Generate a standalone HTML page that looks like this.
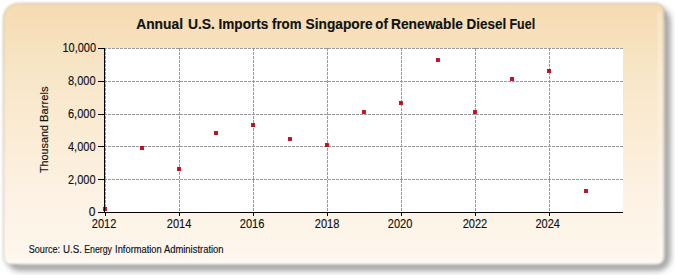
<!DOCTYPE html>
<html><head><meta charset="utf-8">
<style>
html,body{margin:0;padding:0;background:#fff;width:675px;height:275px;overflow:hidden;position:relative;}

svg{position:absolute;left:0;top:0;}
text{font-family:"Liberation Sans",sans-serif;fill:#111;stroke:#111;stroke-width:0.15px;}
</style></head><body>

<svg width="675" height="275" viewBox="0 0 675 275">
<defs>
<linearGradient id="bg" gradientUnits="userSpaceOnUse" x1="0" y1="3" x2="0" y2="263">
<stop offset="0" stop-color="#f5dbb0"/>
<stop offset="0.277" stop-color="#f8e6c9"/>
<stop offset="0.488" stop-color="#faebd3"/>
<stop offset="0.738" stop-color="#fdf2e4"/>
<stop offset="0.912" stop-color="#fef5ea"/>
<stop offset="1" stop-color="#fef8f0"/>
</linearGradient>
<filter id="sh" x="-10%" y="-10%" width="120%" height="120%"><feGaussianBlur stdDeviation="3.5"/></filter>
<filter id="pb" x="-10%" y="-10%" width="120%" height="120%"><feGaussianBlur stdDeviation="1.0"/></filter>
</defs>
<path d="M22.5 10.8 H656.5 A10 10 0 0 1 666.5 20.8 V257.8 A9 9 0 0 1 657.5 266.8 H19.5 A9 9 0 0 1 10.5 257.8 V22.8 A12 12 0 0 1 22.5 10.8 Z" fill="none" stroke="#000" stroke-opacity="0.6" stroke-width="5" filter="url(#sh)"/>
<g filter="url(#pb)">
<path d="M17.5 3.5 H656 A8 8 0 0 1 664 11.5 V257.3 A7 7 0 0 1 657 264.3 H10.5 A7 7 0 0 1 3.5 257.3 V17.5 A14 14 0 0 1 17.5 3.5 Z" fill="url(#bg)" stroke="#707060" stroke-opacity="0.3" stroke-width="1"/>
<rect x="8" y="260.8" width="650" height="2" fill="#fff" fill-opacity="0.7"/>
<rect x="658" y="12" width="3.5" height="246" fill="#fff" fill-opacity="0.3"/>
</g>
<rect x="105" y="48" width="518" height="164" fill="#fff"/>
<g stroke="#9a9a9a" stroke-width="1" stroke-dasharray="3 1" fill="none" shape-rendering="crispEdges">
<line x1="105.5" y1="48" x2="105.5" y2="212"/>
<line x1="104" y1="48.5" x2="623" y2="48.5"/>
<line x1="104" y1="81.5" x2="623" y2="81.5"/>
<line x1="104" y1="114.5" x2="623" y2="114.5"/>
<line x1="104" y1="146.5" x2="623" y2="146.5"/>
<line x1="104" y1="179.5" x2="623" y2="179.5"/>
<line x1="179.5" y1="48" x2="179.5" y2="212"/>
<line x1="253.5" y1="48" x2="253.5" y2="212"/>
<line x1="327.5" y1="48" x2="327.5" y2="212"/>
<line x1="401.5" y1="48" x2="401.5" y2="212"/>
<line x1="475.5" y1="48" x2="475.5" y2="212"/>
<line x1="549.5" y1="48" x2="549.5" y2="212"/>
</g>

<g fill="#da0018" stroke="#a80012" stroke-width="0.6" shape-rendering="geometricPrecision">
<rect x="103.3" y="207.3" width="3.4" height="3.4"/>
<rect x="140.3" y="146.3" width="3.4" height="3.4"/>
<rect x="177.3" y="167.3" width="3.4" height="3.4"/>
<rect x="214.3" y="131.3" width="3.4" height="3.4"/>
<rect x="251.3" y="123.3" width="3.4" height="3.4"/>
<rect x="288.3" y="137.3" width="3.4" height="3.4"/>
<rect x="325.3" y="143.3" width="3.4" height="3.4"/>
<rect x="362.3" y="110.3" width="3.4" height="3.4"/>
<rect x="399.3" y="101.3" width="3.4" height="3.4"/>
<rect x="436.3" y="58.3" width="3.4" height="3.4"/>
<rect x="473.3" y="110.3" width="3.4" height="3.4"/>
<rect x="510.3" y="77.3" width="3.4" height="3.4"/>
<rect x="547.3" y="69.3" width="3.4" height="3.4"/>
<rect x="584.3" y="189.3" width="3.4" height="3.4"/>
</g>
<g stroke="#000" stroke-width="1" fill="none" shape-rendering="crispEdges">
<line x1="104.5" y1="48" x2="104.5" y2="213"/>
<line x1="104" y1="212.5" x2="623" y2="212.5"/>
<line x1="98" y1="48.5" x2="104" y2="48.5"/>
<line x1="98" y1="81.5" x2="104" y2="81.5"/>
<line x1="98" y1="114.5" x2="104" y2="114.5"/>
<line x1="98" y1="146.5" x2="104" y2="146.5"/>
<line x1="98" y1="179.5" x2="104" y2="179.5"/>
<line x1="98" y1="212.5" x2="104" y2="212.5"/>
<line x1="105.5" y1="213" x2="105.5" y2="216"/>
<line x1="179.5" y1="213" x2="179.5" y2="216"/>
<line x1="253.5" y1="213" x2="253.5" y2="216"/>
<line x1="327.5" y1="213" x2="327.5" y2="216"/>
<line x1="401.5" y1="213" x2="401.5" y2="216"/>
<line x1="475.5" y1="213" x2="475.5" y2="216"/>
<line x1="549.5" y1="213" x2="549.5" y2="216"/>
</g>
<text y="28.7" font-size="14" font-weight="bold" lengthAdjust="spacingAndGlyphs"><tspan x="136.2" textLength="46.8" lengthAdjust="spacingAndGlyphs">Annual</tspan><tspan x="187.9" textLength="27.1" lengthAdjust="spacingAndGlyphs">U.S.</tspan><tspan x="218.5" textLength="49.8" lengthAdjust="spacingAndGlyphs">Imports</tspan><tspan x="272.0" textLength="29.5" lengthAdjust="spacingAndGlyphs">from</tspan><tspan x="305.5" textLength="67.2" lengthAdjust="spacingAndGlyphs">Singapore</tspan><tspan x="375.3" textLength="12.5" lengthAdjust="spacingAndGlyphs">of</tspan><tspan x="391.0" textLength="71.9" lengthAdjust="spacingAndGlyphs">Renewable</tspan><tspan x="466.6" textLength="39.6" lengthAdjust="spacingAndGlyphs">Diesel</tspan><tspan x="509.5" textLength="25.6" lengthAdjust="spacingAndGlyphs">Fuel</tspan></text>
<g font-size="12" text-anchor="end">
<text x="96" y="52" textLength="33.5" lengthAdjust="spacingAndGlyphs">10,000</text>
<text x="95.5" y="85" textLength="27.5" lengthAdjust="spacingAndGlyphs">8,000</text>
<text x="95.5" y="118" textLength="27.5" lengthAdjust="spacingAndGlyphs">6,000</text>
<text x="95.5" y="150.5" textLength="27.5" lengthAdjust="spacingAndGlyphs">4,000</text>
<text x="95.5" y="183.5" textLength="27.5" lengthAdjust="spacingAndGlyphs">2,000</text>
<text x="95.5" y="216">0</text>
</g>
<g font-size="12" text-anchor="middle">
<text x="104.1" y="227.8" textLength="24.6" lengthAdjust="spacingAndGlyphs">2012</text>
<text x="179.05" y="227.8" textLength="24.6" lengthAdjust="spacingAndGlyphs">2014</text>
<text x="252.1" y="227.8" textLength="24.6" lengthAdjust="spacingAndGlyphs">2016</text>
<text x="327.1" y="227.8" textLength="24.6" lengthAdjust="spacingAndGlyphs">2018</text>
<text x="400.1" y="227.8" textLength="24.6" lengthAdjust="spacingAndGlyphs">2020</text>
<text x="474.95" y="227.8" textLength="24.6" lengthAdjust="spacingAndGlyphs">2022</text>
<text x="547.7" y="227.8" textLength="24.6" lengthAdjust="spacingAndGlyphs">2024</text>
</g>
<text transform="translate(47.5,173) rotate(-90)" font-size="11.5" textLength="48" lengthAdjust="spacingAndGlyphs">Thousand</text><text transform="translate(47.5,121.9) rotate(-90)" font-size="11.5" textLength="35.4" lengthAdjust="spacingAndGlyphs">Barrels</text>
<text y="252.8" font-size="10" lengthAdjust="spacingAndGlyphs"><tspan x="28.8" textLength="31.2" lengthAdjust="spacingAndGlyphs">Source:</tspan><tspan x="63.0" textLength="19.0" lengthAdjust="spacingAndGlyphs">U.S.</tspan><tspan x="84.2" textLength="27.7" lengthAdjust="spacingAndGlyphs">Energy</tspan><tspan x="115.1" textLength="46.6" lengthAdjust="spacingAndGlyphs">Information</tspan><tspan x="163.9" textLength="59.7" lengthAdjust="spacingAndGlyphs">Administration</tspan></text>
</svg>
</body></html>
